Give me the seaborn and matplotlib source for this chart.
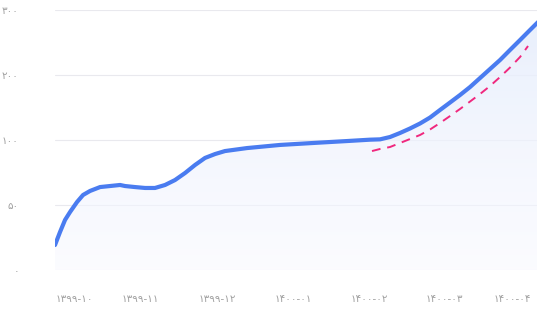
import numpy as np
import pandas as pd
import matplotlib
matplotlib.use("Agg")
import matplotlib.pyplot as plt
import seaborn as sns
from matplotlib.patches import Polygon

# ---- data (x in months from 1399-10) ----
blue_x = [-0.132, -0.066, 0.0, 0.066, 0.158, 0.237, 0.329, 0.461, 0.592, 0.724,
          0.789, 0.921, 1.053, 1.184, 1.316, 1.447, 1.579, 1.711, 1.842, 1.974,
          2.105, 2.395, 2.829, 3.263, 3.711, 4.013, 4.145, 4.276, 4.408, 4.539,
          4.671, 4.803, 4.934, 5.066, 5.197, 5.329, 5.461, 5.592, 5.724, 5.855,
          5.987, 6.118, 6.224]
blue_y = [19.2, 29.2, 38.5, 44.6, 52.3, 57.7, 60.8, 63.8, 64.6, 65.4,
          64.6, 63.8, 63.1, 63.1, 65.4, 69.2, 74.6, 80.8, 86.2, 89.2,
          91.5, 93.8, 96.2, 97.7, 99.2, 100.5, 101.0, 104.6, 110.8, 117.7,
          125.4, 134.6, 146.2, 157.7, 169.2, 181.5, 195.4, 209.2, 223.1, 238.5,
          253.8, 269.2, 281.5]
pink_x = [4.039, 4.145, 4.276, 4.408, 4.539, 4.671, 4.803, 4.934, 5.066, 5.197,
          5.329, 5.461, 5.592, 5.724, 5.855, 5.987, 6.092]
pink_y = [91.5, 93.1, 94.6, 97.7, 101.5, 107.7, 116.2, 126.2, 136.9, 147.7,
          159.2, 170.8, 183.1, 196.9, 211.5, 227.7, 244.6]

x_tick_pos = [0.12, 0.99, 2.0, 3.0, 4.0, 4.99, 5.89]
x_tick_labels = ["۱۳۹۹-۱۰", "۱۳۹۹-۱۱", "۱۳۹۹-۱۲", "۱۴۰۰-۰۱", "۱۴۰۰-۰۲", "۱۴۰۰-۰۳", "۱۴۰۰-۰۴"]
y_tick_vals = [0, 50, 100, 200, 300]
y_tick_labels = ["۰", "۵۰", "۱۰۰", "۲۰۰", "۳۰۰"]

sns.set_theme(style="white")
plt.rcParams['font.family'] = ['DejaVu Sans']

W, H = 539, 315
fig = plt.figure(figsize=(W / 100, H / 100), dpi=100)
ax = fig.add_axes([55 / W, (H - 270) / H, (537 - 55) / W, 260 / H])

vals = np.array(y_tick_vals, dtype=float)
pos = np.arange(len(vals), dtype=float)

def fwd(v):
    v = np.asarray(v, dtype=float)
    return np.where(v > vals[-1], pos[-1] + (v - vals[-1]) / 100.0,
                    np.where(v < 0, v / 50.0, np.interp(v, vals, pos)))

def inv(s):
    s = np.asarray(s, dtype=float)
    return np.where(s > pos[-1], vals[-1] + (s - pos[-1]) * 100.0,
                    np.where(s < 0, s * 50.0, np.interp(s, pos, vals)))

ax.set_yscale('function', functions=(fwd, inv))

blue_df = pd.DataFrame({"x": blue_x, "y": blue_y})
pink_df = pd.DataFrame({"x": pink_x, "y": pink_y})

# gradient fill under the blue line
verts = [(blue_x[0], 0)] + list(zip(blue_x, blue_y)) + [(blue_x[-1], 0)]
poly = Polygon(verts, closed=True, facecolor='none', edgecolor='none', transform=ax.transData)
ax.add_patch(poly)
grad = np.zeros((100, 1, 4))
top = np.array([0.90, 0.93, 0.99])
bot = np.array([0.97, 0.975, 1.0])
for i in range(100):
    t = i / 99
    c = top * (1 - t) + bot * t
    grad[i, 0, :3] = c
    grad[i, 0, 3] = 0.9 - 0.4 * t
im = ax.imshow(grad, aspect='auto', extent=[0, 1, 0, 1], transform=ax.transAxes,
               origin='upper', zorder=1)
im.set_clip_path(poly)

sns.lineplot(data=blue_df, x="x", y="y", ax=ax, color="#4a7cf0", linewidth=3.0,
             zorder=3, solid_capstyle='round', solid_joinstyle='round')
sns.lineplot(data=pink_df, x="x", y="y", ax=ax, color="#f0287e", linewidth=1.4,
             zorder=4, dashes=False)
ax.lines[-1].set_dashes([4.5, 3.5])

ax.set_xlim(-0.132, 6.21)
ax.set_ylim(0, 300)
ax.set_yticks(y_tick_vals)
ax.set_yticklabels(y_tick_labels)
ax.set_xticks(x_tick_pos)
ax.set_xticklabels(x_tick_labels)
ax.set_xlabel("")
ax.set_ylabel("")
ax.grid(axis='y', color="#e9e9ee", linewidth=0.8, zorder=0)
ax.grid(axis='x', visible=False)
ax.set_axisbelow(True)
for s in ax.spines.values():
    s.set_visible(False)
ax.tick_params(axis='y', length=0, pad=26, labelsize=7.5, labelcolor="#a0a0a0")
ax.tick_params(axis='x', length=0, pad=17, labelsize=7.5, labelcolor="#a0a0a0")
ax.set_facecolor('white')

fig.savefig("out.png", dpi=100)
